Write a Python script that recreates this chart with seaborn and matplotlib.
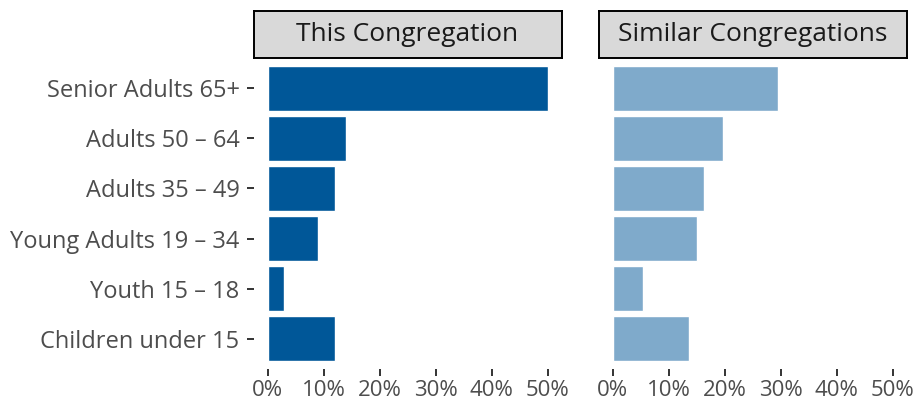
import matplotlib
matplotlib.use("Agg")
import matplotlib.pyplot as plt
import seaborn as sns
import pandas as pd
from matplotlib.ticker import FuncFormatter

categories = ["Senior Adults 65+", "Adults 50 \u2013 64", "Adults 35 \u2013 49",
              "Young Adults 19 \u2013 34", "Youth 15 \u2013 18", "Children under 15"]
this_congregation = [50, 14, 12, 9, 3, 12]
similar_congregations = [29.5, 19.7, 16.3, 15.0, 5.5, 13.6]
panel_titles = ["This Congregation", "Similar Congregations"]
x_ticks = [0, 10, 20, 30, 40, 50]

dark_blue = "#005798"
light_blue = "#7FAACB"

sns.set_theme(style="white")
plt.rcParams["font.family"] = ["Open Sans", "DejaVu Sans"]

W, H = 917, 401
fig = plt.figure(figsize=(W / 100, H / 100), dpi=100)
fig.patch.set_facecolor("white")

panels = [(253.5, 308), (598.5, 308.5)]
panel_top, panel_bottom = 58, 369
strip_top = 11

series = [this_congregation, similar_congregations]
colors = [dark_blue, light_blue]

for i, ((x0, w), vals, col, title) in enumerate(zip(panels, series, colors, panel_titles)):
    ax = fig.add_axes([x0 / W, 1 - panel_bottom / H, w / W, (panel_bottom - panel_top) / H])
    df = pd.DataFrame({"group": categories, "pct": vals})
    sns.barplot(data=df, x="pct", y="group", orient="h", color=col,
                width=0.9, saturation=1, ax=ax)
    ax.set_xlim(-2.5, 52.5)
    ax.set_ylim(len(categories) - 0.4, -0.6)
    ax.set_xticks(x_ticks)
    ax.xaxis.set_major_formatter(FuncFormatter(lambda v, p: f"{int(v)}%"))
    ax.set_xlabel("")
    ax.set_ylabel("")
    for s in ax.spines.values():
        s.set_visible(False)
    ax.tick_params(axis="x", bottom=True, length=5, width=1.4, color="#333333",
                   labelsize=16, labelcolor="#4d4d4d", pad=3)
    if i == 0:
        ax.tick_params(axis="y", left=True, length=5, width=1.4, color="#333333",
                       labelsize=17, labelcolor="#4d4d4d", pad=5)
    else:
        ax.tick_params(axis="y", left=False, labelleft=False)
    ax.grid(False)
    ax.set_facecolor("white")

    sax = fig.add_axes([x0 / W, 1 - panel_top / H, w / W, (panel_top - strip_top) / H])
    sax.set_facecolor("#d9d9d9")
    sax.set_xticks([])
    sax.set_yticks([])
    for s in sax.spines.values():
        s.set_visible(True)
        s.set_color("black")
        s.set_linewidth(1.4)
    sax.text(0.5, 0.5, title, ha="center", va="center", fontsize=19,
             color="#1a1a1a", transform=sax.transAxes)

fig.savefig("out.png", dpi=100, facecolor="white")
